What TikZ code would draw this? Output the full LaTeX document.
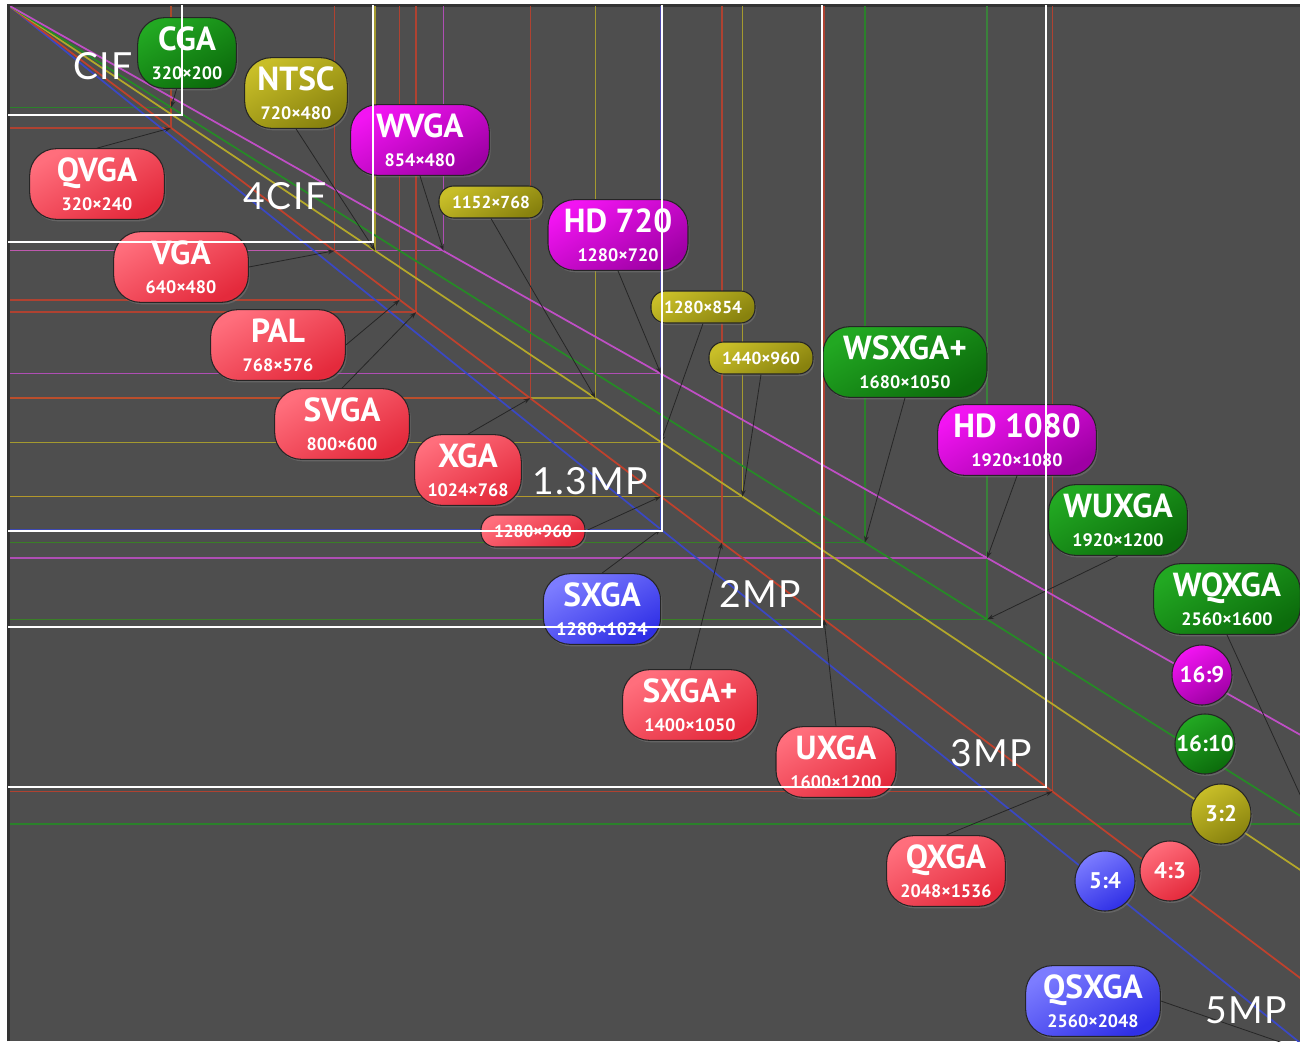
\documentclass[tikz,border=0pt]{standalone}
\usepackage{fontspec}
\usepackage{tikz}
\usetikzlibrary{shadows,arrows.meta}
\setmainfont{Lato}
\newfontfamily\pillfont{PT Sans}
\newfontfamily\mpfont{Lato}[LetterSpace=4]

\definecolor{backgr}{HTML}{4E4E4E}
% line colours, one for each aspect ratio
\definecolor{lred}{HTML}{C0412C}
\definecolor{lblue}{HTML}{3A48C4}
\definecolor{lmag}{HTML}{C04EC6}
\definecolor{lgrn}{HTML}{268A26}
\definecolor{lyel}{HTML}{B4A82A}
% label fills
\definecolor{redA}{HTML}{FF6E7C}
\definecolor{redB}{HTML}{E42A3C}
\definecolor{grnA}{HTML}{22A822}
\definecolor{grnB}{HTML}{0C6C0C}
\definecolor{yelA}{HTML}{C8BE28}
\definecolor{yelB}{HTML}{88820E}
\definecolor{magA}{HTML}{F214F2}
\definecolor{magB}{HTML}{9E00A4}
\definecolor{bluA}{HTML}{7C7CFF}
\definecolor{bluB}{HTML}{3030E6}

\newcommand{\resname}[1]{{\fontsize{25}{25}\selectfont #1}}

\begin{document}
\begin{tikzpicture}[x=0.75pt, y=-0.75pt,
    rline/.style={line width=1.1pt, opacity=0.85},
    diag/.style={line width=1.3pt},
    arr/.style={-{Stealth[length=5pt,width=3.5pt]}, line width=0.6pt, black!85},
    mpbox/.style={white, line width=1.6pt},
    mplabel/.style={text=white, inner sep=0pt, font=\mpfont\fontsize{28}{28}\selectfont},
    pill/.style={draw=black!85, line width=0.8pt, rounded corners=20pt,
        top color=#1A, bottom color=#1B, shading angle=30,
        drop shadow={opacity=0.45, shadow xshift=1pt, shadow yshift=-1.5pt},
        minimum height=53pt, inner sep=0pt, align=center, text=white,
        font=\pillfont\bfseries\fontsize{13.5}{22}\selectfont},
    tag/.style={pill=#1, rounded corners=11pt, minimum height=24pt, minimum width=78pt,
        font=\pillfont\bfseries\fontsize{13}{14}\selectfont},
    ratio/.style={circle, draw=black!85, line width=0.8pt,
        top color=#1A, bottom color=#1B, shading angle=30,
        drop shadow={opacity=0.45, shadow xshift=1pt, shadow yshift=-1.5pt},
        minimum size=45pt, inner sep=0pt, text=white,
        font=\pillfont\bfseries\fontsize{17}{17}\selectfont}]

\useasboundingbox (0,0) rectangle (1300,1045);
\fill[white] (0,0) rectangle (1300,1045);
\fill[backgr] (7,4) rectangle (1300,1041);
\draw[black!80, line width=2.2pt] (8.5,1041) -- (8.5,5.5) -- (1300,5.5);
\coordinate (o) at (8,5);

\begin{scope}
\clip (10,7) rectangle (1300,1041);
% one rectangle for each resolution
\foreach \n/\w/\h/\c in {cga/320/200/lgrn, qvga/320/240/lred, vga/640/480/lred,
    ntsc/720/480/lyel, wvga/854/480/lmag, pal/768/576/lred, svga/800/600/lred,
    rA/1152/768/lyel, xga/1024/768/lred, hdseven/1280/720/lmag, rB/1280/854/lyel,
    rC/1280/960/lred, sxga/1280/1024/lblue, rD/1440/960/lyel, sxgap/1400/1050/lred,
    wsxgap/1680/1050/lgrn, uxga/1600/1200/lred, hdten/1920/1080/lmag,
    wuxga/1920/1200/lgrn, qxga/2048/1536/lred, wqxga/2560/1600/lgrn, qsxga/2560/2048/lblue}
  {
  \coordinate (p-\n) at ({8+0.51*\w},{5+0.512*\h});
  \draw[\c, rline] (o |- p-\n) -- (p-\n) -- (p-\n |- o);
  }
% aspect ratio lines
\foreach \a/\b/\c in {5/4/lblue, 4/3/lred, 3/2/lyel, 16/10/lgrn, 16/9/lmag}
  \draw[\c, diag] (o) -- ++(1400,{1400*1.004*\b/\a});
\end{scope}

% labels
\node[pill=grn, minimum width=74pt] (cga) at (187,53) {\resname{CGA}\\320×200};
\node[pill=yel, minimum width=77pt] (ntsc) at (296,93) {\resname{NTSC}\\720×480};
\node[pill=mag, minimum width=104pt] (wvga) at (420,140) {\resname{WVGA}\\854×480};
\node[pill=red, minimum width=101pt] (qvga) at (97,184) {\resname{QVGA}\\320×240};
\node[pill=red, minimum width=101pt] (vga) at (181,267) {\resname{VGA}\\640×480};
\node[pill=red, minimum width=101pt] (pal) at (278,345) {\resname{PAL}\\768×576};
\node[pill=red, minimum width=101pt] (svga) at (342,424) {\resname{SVGA}\\800×600};
\node[pill=red, minimum width=80pt] (xga) at (468,470) {\resname{XGA}\\1024×768};
\node[tag=yel] (rA) at (491,202) {1152×768};
\node[pill=mag, minimum width=105pt] (hdseven) at (618,235) {\resname{HD 720}\\1280×720};
\node[tag=yel] (rB) at (703,307) {1280×854};
\node[tag=yel] (rD) at (761,358) {1440×960};
\node[tag=red] (rC) at (533,531) {1280×960};
\node[pill=blu, minimum width=88pt] (sxga) at (602,609) {\resname{SXGA}\\1280×1024};
\node[pill=red, minimum width=101pt] (sxgap) at (690,705) {\resname{SXGA+}\\1400×1050};
\node[pill=red, minimum width=90pt] (uxga) at (836,762) {\resname{UXGA}\\1600×1200};
\node[pill=red, minimum width=89pt] (qxga) at (946,871) {\resname{QXGA}\\2048×1536};
\node[pill=blu, minimum width=101pt] (qsxga) at (1093,1001) {\resname{QSXGA}\\2560×2048};
\node[pill=grn, minimum width=123pt] (wsxgap) at (905,362) {\resname{WSXGA+}\\1680×1050};
\node[pill=mag, minimum width=119pt] (hdten) at (1017,440) {\resname{HD 1080}\\1920×1080};
\node[pill=grn, minimum width=104pt] (wuxga) at (1118,520) {\resname{WUXGA}\\1920×1200};
\node[pill=grn, minimum width=110pt] (wqxga) at (1227,599) {\resname{WQXGA}\\2560×1600};

\node[ratio=mag] (rsixnine) at (1202,675) {16:9};
\node[ratio=grn] (rsixten) at (1205,744) {16:10};
\node[ratio=yel] (rthreetwo) at (1221,814) {3:2};
\node[ratio=red] (rfourthree) at (1170,871) {4:3};
\node[ratio=blu] (rfivefour) at (1105,881) {5:4};

% arrows to the corners
\begin{scope}
\clip (10,7) rectangle (1300,1041);
\draw[arr] (cga) -- (p-cga);
\draw[arr] (qvga.north) -- (p-qvga);
\draw[arr] (vga.east) -- (p-vga);
\draw[arr] (ntsc.south) -- (p-ntsc);
\draw[arr] (wvga.south) -- (p-wvga);
\draw[arr] (rA.south) -- (p-rA);
\draw[arr] (hdseven.south) -- (p-hdseven);
\draw[arr] (pal.east) -- (p-pal);
\draw[arr] (svga.north) -- (p-svga);
\draw[arr] (xga.north) -- (p-xga);
\draw[arr] (rB.south) -- (p-rB);
\draw[arr] (rD.south) -- (p-rD);
\draw[arr] (rC.east) -- (p-rC);
\draw[arr] (sxga.north) -- (p-sxga);
\draw[arr] (sxgap.north) -- (p-sxgap);
\draw[arr] (wsxgap.south) -- (p-wsxgap);
\draw[arr] (uxga.north) -- (p-uxga);
\draw[arr] (hdten.south) -- (p-hdten);
\draw[arr] (wuxga.south) -- (p-wuxga);
\draw[arr] (qxga.north) -- (p-qxga);
\draw[arr] (wqxga.south) -- (p-wqxga);
\draw[arr] (qsxga.east) -- (p-qsxga);
\end{scope}

% megapixel frames
\draw[mpbox] (8,115) -| (182,5);
\draw[mpbox] (8,242) -| (373,5);
\draw[mpbox] (8,531) -| (662,5);
\draw[mpbox] (8,627) -| (822,5);
\draw[mpbox] (8,787) -| (1046,5);
\node[mplabel] (cif) at (103,66) {CIF};
\node[mplabel] (fourcif) at (285,196) {4CIF};
\node[mplabel] (mpone) at (590,481) {1.3MP};
\node[mplabel] (mptwo) at (760,594) {2MP};
\node[mplabel] (mpthree) at (991,753) {3MP};
\node[mplabel] (mpfive) at (1246,1010) {5MP};
\end{tikzpicture}
\end{document}
